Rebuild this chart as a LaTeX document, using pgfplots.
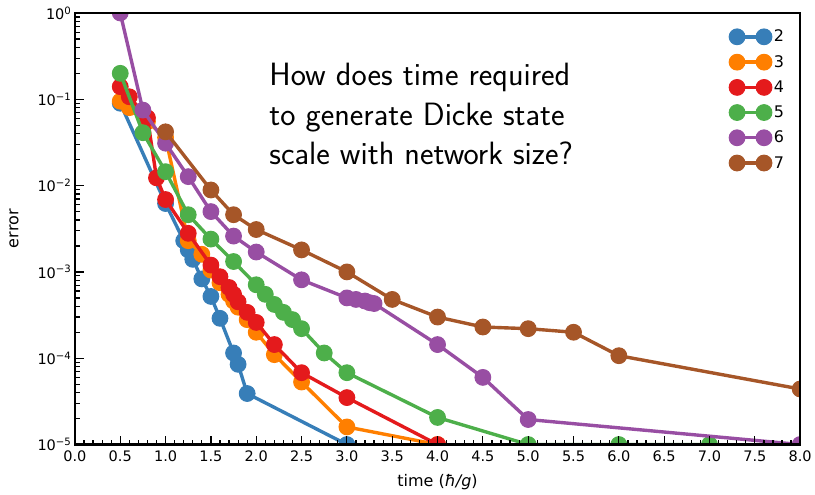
\documentclass[border=0pt]{standalone}
\usepackage{fontspec}
\setmainfont{DejaVu Sans}
\usepackage{pgfplots}
\pgfplotsset{compat=1.18}
\definecolor{cA}{HTML}{377EB8}
\definecolor{cB}{HTML}{FF7F00}
\definecolor{cC}{HTML}{E41A1C}
\definecolor{cD}{HTML}{4DAF4A}
\definecolor{cE}{HTML}{984EA3}
\definecolor{cF}{HTML}{A65628}
\begin{document}
\begin{tikzpicture}
\begin{axis}[
  scale only axis, width=726pt, height=432pt,
  ymode=log, log basis y=10,
  xmin=0, xmax=8, ymin=1e-5, ymax=1,
  xtick={0,0.5,...,8}, minor x tick num=4,
  xticklabel style={yshift=-3pt, /pgf/number format/.cd, fixed, fixed zerofill, precision=1, assume math mode=true},
  ytick={1e-5,1e-4,1e-3,1e-2,1e-1,1},
  yticklabels={10\textsuperscript{−5},10\textsuperscript{−4},10\textsuperscript{−3},10\textsuperscript{−2},10\textsuperscript{−1},10\textsuperscript{0}},
  minor ytick={2e-5,3e-5,4e-5,5e-5,6e-5,7e-5,8e-5,9e-5,2e-4,3e-4,4e-4,5e-4,6e-4,7e-4,8e-4,9e-4,2e-3,3e-3,4e-3,5e-3,6e-3,7e-3,8e-3,9e-3,2e-2,3e-2,4e-2,5e-2,6e-2,7e-2,8e-2,9e-2,2e-1,3e-1,4e-1,5e-1,6e-1,7e-1,8e-1,9e-1},
  tick align=inside, xtick pos=lower, ytick pos=left,
  major tick length=9pt, minor tick length=5pt,
  every tick/.style={black, line width=1.2pt},
  axis line style={line width=2.5pt},
  clip marker paths=true,
  axis on top,
  tick label style={font=\fontsize{14.5}{17}\selectfont},
  label style={font=\fontsize{16}{19}\selectfont},
  xlabel={time (\textit{ħ/g})}, ylabel={error},
  xlabel style={at={([yshift=-38pt]rel axis cs:0.5,0)}, anchor=center},
  ylabel style={at={([xshift=-61pt]rel axis cs:0,0.5)}, anchor=center},
  every axis plot/.append style={line width=3.4pt, mark=*, mark size=7.9pt, mark options={solid, line width=1pt}},
  legend style={at={(rel axis cs:0.985,0.97)}, anchor=north east, draw=none, fill=none,
    font=\fontsize{16}{19}\selectfont, row sep=8pt, cells={anchor=west}},
  legend image code/.code={\draw[#1,mark=none] (0pt,0pt) -- (27pt,0pt); \draw[#1,only marks] plot coordinates {(0pt,0pt) (27pt,0pt)};},
]
\addplot[color=cA] coordinates {(0.5,0.09) (1.0,0.0062) (1.2,0.0023) (1.25,0.0018) (1.3,0.0014) (1.4,8.3e-4) (1.5,5.2e-4) (1.6,2.9e-4) (1.75,1.15e-4) (1.8,8.5e-5) (1.9,3.9e-5) (3.0,1e-5)};
\addlegendentry{2}
\addplot[color=cB] coordinates {(0.5,0.095) (0.6,0.08) (0.8,0.055) (1.0,0.036) (1.25,0.0023) (1.4,0.0016) (1.5,0.00105) (1.6,7.5e-4) (1.7,5.5e-4) (1.75,4.6e-4) (1.8,3.9e-4) (1.9,2.8e-4) (2.0,2.0e-4) (2.2,1.1e-4) (2.5,5.3e-5) (3.0,1.6e-5) (4.0,1e-5)};
\addlegendentry{3}
\addplot[color=cC] coordinates {(0.5,0.14) (0.6,0.107) (0.8,0.061) (0.9,0.0123) (1.0,0.0069) (1.25,0.0028) (1.5,0.0012) (1.6,8.8e-4) (1.7,6.6e-4) (1.75,5.5e-4) (1.8,4.5e-4) (1.9,3.4e-4) (2.0,2.6e-4) (2.2,1.44e-4) (2.5,6.8e-5) (3.0,3.5e-5) (4.0,1e-5)};
\addlegendentry{4}
\addplot[color=cD] coordinates {(0.5,0.2) (0.75,0.041) (1.0,0.0145) (1.25,0.0046) (1.5,0.0024) (1.75,0.00132) (2.0,7.1e-4) (2.1,5.5e-4) (2.2,4.2e-4) (2.3,3.4e-4) (2.4,2.8e-4) (2.5,2.2e-4) (2.75,1.15e-4) (3.0,6.8e-5) (4.0,2.06e-5) (5.0,1e-5) (6.0,1e-5) (7.0,1e-5)};
\addlegendentry{5}
\addplot[color=cE] coordinates {(0.5,1.0) (0.75,0.075) (1.0,0.031) (1.25,0.0127) (1.5,0.005) (1.75,0.0026) (2.0,0.0017) (2.5,8.1e-4) (3.0,5.0e-4) (3.1,4.8e-4) (3.2,4.6e-4) (3.25,4.4e-4) (3.3,4.3e-4) (4.0,1.44e-4) (4.5,6.0e-5) (5.0,1.95e-5) (8.0,1e-5)};
\addlegendentry{6}
\addplot[color=cF] coordinates {(1.0,0.042) (1.5,0.0089) (1.75,0.0046) (2.0,0.0031) (2.5,0.0018) (3.0,0.001) (3.5,4.8e-4) (4.0,3.0e-4) (4.5,2.3e-4) (5.0,2.2e-4) (5.5,2.0e-4) (6.0,1.07e-4) (8.0,4.4e-5)};
\addlegendentry{7}
\node[anchor=north west, align=left, inner sep=0pt, font=\sffamily\fontsize{32.3}{39.5}\selectfont] at (rel axis cs:0.268,0.884) {How does time required\\to generate Dicke state\\scale with network size?};
\end{axis}
\path (current axis.south west) ++(-75pt,-50pt);
\path (current axis.north east) ++(14pt,13pt);
\end{tikzpicture}
\end{document}
